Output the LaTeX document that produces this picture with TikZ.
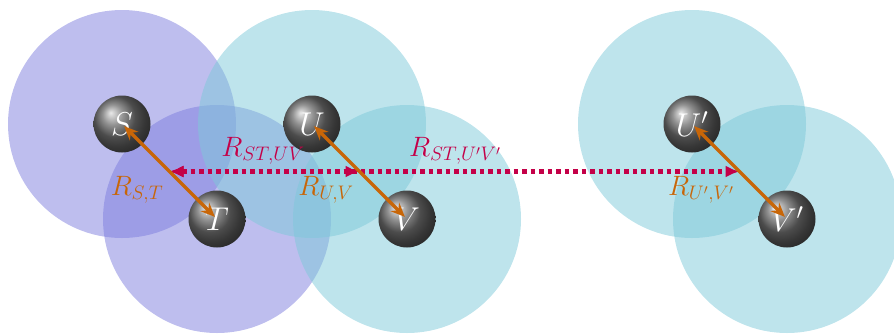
\RequirePackage{fix-cm}
\documentclass[tikz,border=0pt]{standalone}
\usetikzlibrary{arrows.meta,shadings,calc}
\definecolor{purpfill}{RGB}{125,125,222}
\definecolor{cyanfill}{RGB}{125,201,217}
\definecolor{sep}{RGB}{200,102,8}
\definecolor{dist}{RGB}{196,0,72}
\tikzset{
  ballnode/.style={circle,minimum size=57pt,inner sep=0pt,shading=ball,ball color=gray!85!black,text=white,font=\fontsize{33}{38}\selectfont},
  pzone/.style={fill=purpfill,fill opacity=0.5},
  czone/.style={fill=cyanfill,fill opacity=0.5},
  sepline/.style={draw=sep,line width=3.4pt,{Stealth[length=14pt,width=12pt]}-{Stealth[length=14pt,width=12pt]}},
  distline/.style={draw=dist,line width=4.5pt,dash pattern=on 4.5pt off 4pt,{Latex[length=14pt,width=12pt]}-{Latex[length=14pt,width=12pt]}},
  seplabel/.style={text=sep,font=\fontsize{28}{33}\selectfont},
  distlabel/.style={text=dist,font=\fontsize{28}{33}\selectfont}
}
\begin{document}
\begin{tikzpicture}[x=1pt,y=-1pt]
\useasboundingbox (0,0) rectangle (894,333);
\coordinate (cS) at (122,124);
\coordinate (cT) at (217,219);
\coordinate (cU) at (312,124);
\coordinate (cV) at (407,219);
\coordinate (cU2) at (692,124);
\coordinate (cV2) at (787,219);
\fill[pzone] (cS) circle (114);
\fill[pzone] (cT) circle (114);
\fill[czone] (cU) circle (114);
\fill[czone] (cV) circle (114);
\fill[czone] (cU2) circle (114);
\fill[czone] (cV2) circle (114);
\node[ballnode] (S) at (cS) {$S$};
\node[ballnode] (T) at (cT) {$T$};
\node[ballnode] (U) at (cU) {$U$};
\node[ballnode] (V) at (cV) {$V$};
\node[ballnode] (U2) at (cU2) {$U'$};
\node[ballnode] (V2) at (cV2) {$V'$};
\coordinate (mST) at ($(S.center)!0.5!(T.center)$);
\coordinate (mUV) at ($(U.center)!0.5!(V.center)$);
\coordinate (mUV2) at ($(U2.center)!0.5!(V2.center)$);
\draw[distline] (mST) -- (mUV2);
\draw[distline] (mST) -- (mUV);
\draw[sepline,shorten <=3pt,shorten >=3pt] (S.center) -- (T.center);
\draw[sepline,shorten <=3pt,shorten >=3pt] (U.center) -- (V.center);
\draw[sepline,shorten <=3pt,shorten >=3pt] (U2.center) -- (V2.center);
\node[seplabel] (lST) at (137,190) {$R_{S,T}$};
\node[seplabel] (lUV) at (326,190) {$R_{U,V}$};
\node[seplabel] (lUV2) at (701,190) {$R_{U',V'}$};
\node[distlabel] (dUV) at (263,151) {$R_{ST,UV}$};
\node[distlabel] (dUV2) at (455,151) {$R_{ST,U'V'}$};
\end{tikzpicture}
\end{document}
